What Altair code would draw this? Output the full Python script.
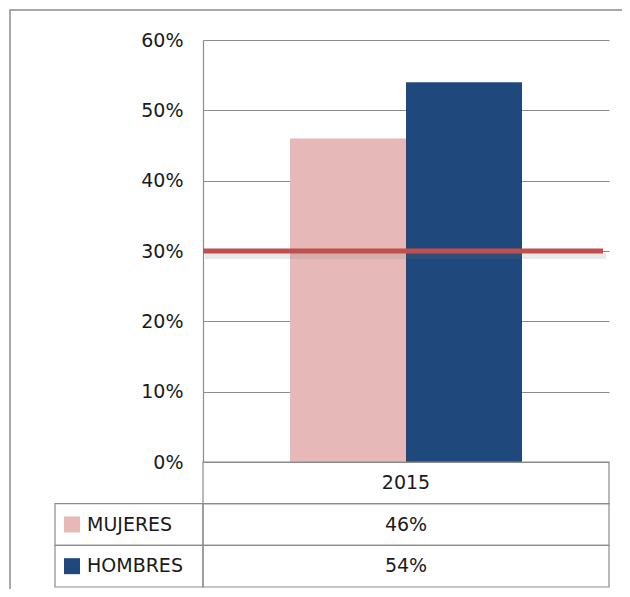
import altair as alt
import pandas as pd

# ---- data ----
years = ["2015"]
series = ["MUJERES", "HOMBRES"]
values = [0.46, 0.54]
value_labels = ["46%", "54%"]
colors = ["#E6B9B8", "#1F497D"]
y_ticks = [0.0, 0.1, 0.2, 0.3, 0.4, 0.5, 0.6]
target = [0.30]
rows = years + series

# ---- layout constants ----
W = 406        # plot width
PH = 422       # plot (bars) height
H = 547        # plot + data table height
KEYW = 148     # width of legend column of the table
FONT = "DejaVu Sans"
FS = 19
GRID = "#8c8c8c"
TXT = "#1a1a1a"

bars_df = pd.DataFrame({"year": years * len(series), "serie": series, "value": values})
target_df = pd.DataFrame({"value": target})
table_df = pd.DataFrame({"row": rows, "text": years + value_labels, "year": years * len(rows)})
keys_df = pd.DataFrame({"row": series, "serie": series})
frame_df = pd.DataFrame({"a": [0]})

y_scale = alt.Scale(domain=[0, 0.6], range=[PH, 0], nice=False)
row_scale = alt.Scale(domain=rows, range=[PH, H], paddingInner=0, paddingOuter=0)
color_scale = alt.Scale(domain=series, range=colors)

bars = alt.Chart(bars_df).mark_bar().encode(
    x=alt.X("year:N", scale=alt.Scale(paddingInner=0, paddingOuter=0.375), axis=None),
    xOffset=alt.XOffset("serie:N", sort=series,
                        scale=alt.Scale(domain=series, paddingInner=0, paddingOuter=0)),
    y=alt.Y("value:Q", scale=y_scale,
            axis=alt.Axis(values=y_ticks, format=".0%", grid=True, gridColor=GRID,
                          gridWidth=1.2, domainColor=GRID, domainWidth=1.2, ticks=False,
                          labelPadding=20, labelFont=FONT, labelFontSize=FS,
                          labelColor=TXT, title=None)),
    color=alt.Color("serie:N", scale=color_scale, legend=None),
)

shadow = alt.Chart(target_df).mark_rule(color="#777777", strokeWidth=6, opacity=0.16,
                                        yOffset=5).encode(
    y=alt.Y("value:Q"), x=alt.value(2), x2=alt.value(403))
rule = alt.Chart(target_df).mark_rule(color="#C0504D", strokeWidth=5).encode(
    y=alt.Y("value:Q"), x=alt.value(0), x2=alt.value(400))

plot_layer = alt.layer(bars, shadow, rule)

row_y = alt.Y("row:N", scale=row_scale, axis=None)

val_cells = alt.Chart(table_df).mark_rect(fillOpacity=0, stroke=GRID, strokeWidth=1.2).encode(
    y=row_y, x=alt.value(0), x2=alt.value(W))
key_cells = alt.Chart(keys_df).mark_rect(fillOpacity=0, stroke=GRID, strokeWidth=1.2).encode(
    y=row_y, x=alt.value(-KEYW), x2=alt.value(0))
squares = alt.Chart(keys_df).mark_square(size=256, opacity=1).encode(
    y=row_y, x=alt.value(-131),
    color=alt.Color("serie:N", scale=color_scale, legend=None))
key_text = alt.Chart(keys_df).mark_text(align="left", baseline="middle", font=FONT,
                                        fontSize=FS, color=TXT).encode(
    y=row_y, x=alt.value(-116), text="row:N")
val_text = alt.Chart(table_df).mark_text(align="center", baseline="middle", font=FONT,
                                         fontSize=FS, color=TXT).encode(
    y=row_y, x=alt.X("year:N"), text="text:N")

table_layer = alt.layer(val_cells, key_cells, squares, key_text, val_text)

frame = alt.Chart(frame_df).mark_rect(fillOpacity=0, stroke=GRID, strokeWidth=1.5).encode(
    x=alt.value(-193), x2=alt.value(W + 100), y=alt.value(-30), y2=alt.value(H + 100))

chart = alt.layer(frame, plot_layer, table_layer).resolve_scale(
    y="independent"
).properties(
    width=W, height=H,
    autosize=alt.AutoSizeParams(type="none"),
    padding={"left": 195, "top": 32, "right": 13, "bottom": 2},
    background="white",
).configure_view(strokeWidth=0)

chart.save("out.html", embed_options={"renderer": "svg", "actions": False})
